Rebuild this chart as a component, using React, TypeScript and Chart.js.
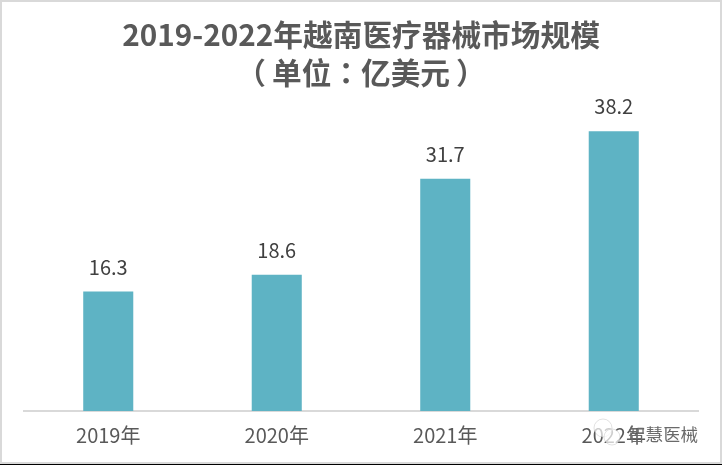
import React, { useEffect, useRef } from "react";
import { Chart, registerables } from "chart.js";

Chart.register(...registerables);

const categories = ["2019年", "2020年", "2021年", "2022年"];
const marketSize = [16.3, 18.6, 31.7, 38.2];
const titleLines = ["2019-2022年越南医疗器械市场规模", "（\u2009单位：亿美元\u2009）"];
const watermark = "智慧医械";

const FONT = '"Noto Sans CJK TC", "Noto Sans", sans-serif';

const valueLabels = {
  id: "valueLabels",
  afterDatasetsDraw(chart: any) {
    const { ctx } = chart;
    const meta = chart.getDatasetMeta(0);
    ctx.save();
    ctx.fillStyle = "#404040";
    ctx.font = `20px ${FONT}`;
    ctx.textAlign = "center";
    ctx.textBaseline = "alphabetic";
    meta.data.forEach((el: any, i: number) => {
      ctx.fillText(marketSize[i].toFixed(1), el.x, el.y - 17);
    });
    ctx.restore();
  },
};

const watermarkPlugin = {
  id: "watermarkText",
  afterDraw(chart: any) {
    const { ctx } = chart;
    ctx.save();
    ctx.fillStyle = "rgba(255,255,255,0.7)";
    ctx.strokeStyle = "rgba(190,190,190,0.45)";
    ctx.lineWidth = 1;
    ctx.beginPath();
    ctx.arc(603, 428, 9, 0, Math.PI * 2);
    ctx.fill();
    ctx.stroke();
    ctx.beginPath();
    ctx.arc(612, 437, 8, 0, Math.PI * 2);
    ctx.fill();
    ctx.stroke();
    ctx.fillStyle = "#6a6a6a";
    ctx.font = `17.5px ${FONT}`;
    ctx.textAlign = "left";
    ctx.textBaseline = "alphabetic";
    ctx.fillText(watermark, 628, 441);
    ctx.restore();
  },
};

export default function App() {
  const ref = useRef<HTMLCanvasElement>(null);
  useEffect(() => {
    document.body.style.margin = "0";
    const chart = new Chart(ref.current!, {
      type: "bar",
      data: {
        labels: categories,
        datasets: [
          {
            data: marketSize,
            backgroundColor: "#5EB3C4",
            barPercentage: 1,
            categoryPercentage: 0.297,
          },
        ],
      },
      options: {
        responsive: false,
        animation: false,
        layout: { padding: { left: 24, right: 24, top: 0, bottom: 6 } },
        plugins: {
          legend: { display: false },
          tooltip: { enabled: false },
          title: {
            display: true,
            text: titleLines,
            color: "#595959",
            font: { family: FONT, size: 29.7, weight: "bold", lineHeight: 1.3 },
            padding: { top: 15, bottom: 2 },
          },
        },
        scales: {
          x: {
            grid: { display: false, drawTicks: false },
            border: { color: "#D9D9D9", width: 2 },
            ticks: {
              color: "#595959",
              font: { family: FONT, size: 20 },
              padding: 12,
              maxRotation: 0,
            },
          },
          y: { display: false, min: 0, max: 43.25 },
        },
      },
      plugins: [valueLabels, watermarkPlugin],
    });
    return () => chart.destroy();
  }, []);
  return (
    <div
      style={{
        width: 722,
        height: 465,
        boxSizing: "border-box",
        position: "relative",
        background: "#fff",
        overflow: "hidden",
      }}
    >
      <canvas ref={ref} width={722} height={465} style={{ display: "block" }} />
      <div
        style={{
          position: "absolute",
          inset: 0,
          boxSizing: "border-box",
          borderTop: "2px solid #D9D9D9",
          borderLeft: "2px solid #D9D9D9",
          borderRight: "2px solid #D9D9D9",
          borderBottom: "3px solid #D9D9D9",
          pointerEvents: "none",
        }}
      />
      <div style={{ position: "absolute", left: 0, right: 0, bottom: 0, height: 1, background: "#000" }} />
    </div>
  );
}
